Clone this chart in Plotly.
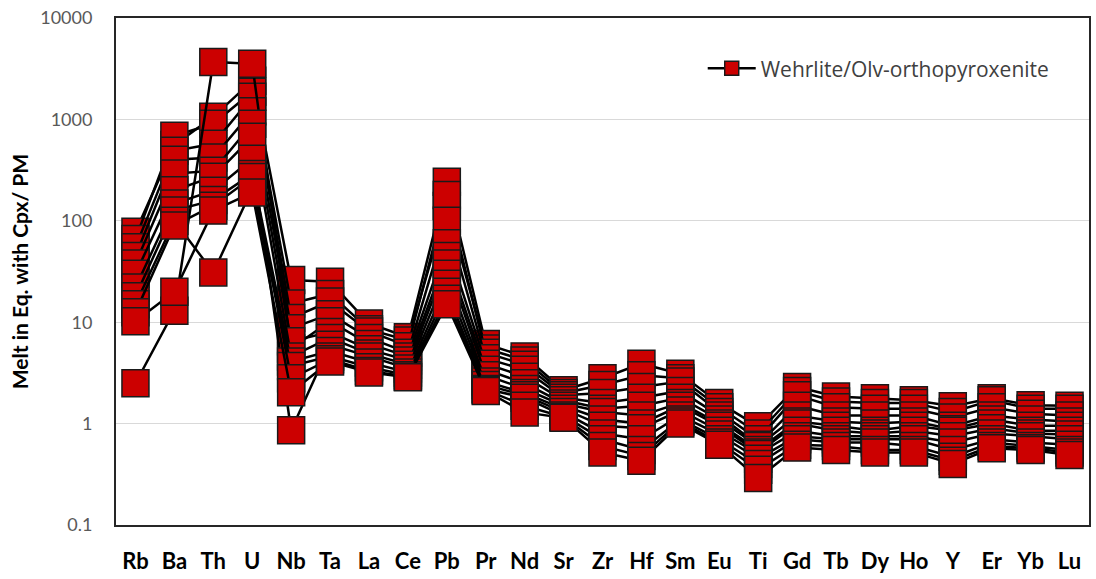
import plotly.graph_objects as go

# Trace-element order for the spider diagram
elements = ["Rb", "Ba", "Th", "U", "Nb", "Ta", "La", "Ce", "Pb", "Pr", "Nd", "Sr", "Zr",
            "Hf", "Sm", "Eu", "Ti", "Gd", "Tb", "Dy", "Ho", "Y", "Er", "Yb", "Lu"]

# Calculated melt in equilibrium with clinopyroxene, normalised to primitive mantle
s01 = [78, 560, 1060, 2400, 26, 25, 9.7, 7.1, 243, 6.1, 4.6, 2.13, 2.8, 3.9, 3.1, 1.6, 0.94, 2.3, 1.85, 1.78, 1.7, 1.48, 1.78, 1.52, 1.5]
s02 = [66, 690, 905, 1870, 15.3, 19, 8.5, 6.6, 140, 5.5, 4.2, 2.0, 2.4, 3.0, 2.8, 1.45, 0.8, 2.1, 1.65, 1.6, 1.6, 1.3, 1.7, 1.4, 1.4]
s03 = [55, 490, 575, 1670, 11, 16, 8.1, 5.8, 180, 5.0, 3.8, 1.9, 2.0, 2.3, 2.6, 1.3, 0.7, 1.9, 1.45, 1.4, 1.4, 1.15, 1.45, 1.25, 1.2]
s04 = [45, 400, 420, 1200, 8.7, 12, 7.0, 5.0, 100, 4.4, 3.4, 1.8, 1.6, 1.8, 2.1, 1.2, 0.62, 1.5, 1.2, 1.2, 1.2, 0.95, 1.2, 1.1, 1.05]
s05 = [2.5, 13, 3690, 3530, 5.5, 10.2, 6.1, 4.6, 60, 3.9, 2.9, 1.7, 1.4, 1.5, 1.8, 1.1, 0.6, 1.2, 1.05, 1.0, 1.05, 0.88, 1.1, 0.95, 0.95]
s06 = [38, 292, 312, 905, 6.5, 8, 5.4, 4.2, 45, 3.4, 2.5, 1.58, 1.3, 1.2, 1.6, 1.0, 0.55, 1.05, 0.95, 0.85, 0.95, 0.85, 1.0, 0.85, 0.85]
s07 = [30, 200, 272, 674, 4.6, 7, 4.9, 3.8, 38, 3.0, 2.2, 1.5, 1.1, 1.0, 1.5, 0.95, 0.52, 1.0, 0.85, 0.8, 0.85, 0.75, 0.9, 0.8, 0.78]
s08 = [22, 148, 198, 409, 0.86, 6, 4.6, 3.5, 30, 2.6, 2.0, 1.4, 0.95, 0.9, 1.35, 0.85, 0.5, 0.85, 0.75, 0.75, 0.75, 0.65, 0.8, 0.75, 0.7]
s09 = [18, 126, 160, 290, 4.1, 5.2, 4.0, 3.2, 24, 2.4, 1.9, 1.3, 0.8, 0.7, 1.2, 0.78, 0.45, 0.75, 0.7, 0.7, 0.7, 0.55, 0.7, 0.65, 0.62]
s10 = [15, 100, 31, 207, 3.7, 4.6, 3.6, 3.0, 20, 2.2, 1.8, 1.2, 0.7, 0.55, 1.1, 0.7, 0.4, 0.7, 0.65, 0.65, 0.6, 0.47, 0.65, 0.6, 0.55]
s11 = [12.5, 90, 141, 270, 2.8, 4.3, 3.3, 2.9, 17, 2.15, 1.5, 1.16, 0.6, 0.48, 1.05, 0.65, 0.35, 0.62, 0.6, 0.55, 0.55, 0.43, 0.6, 0.57, 0.52]
s12 = [10.2, 20, 126, 190, 2.04, 4.1, 3.2, 2.86, 15, 2.1, 1.29, 1.14, 0.52, 0.43, 1.0, 0.62, 0.29, 0.58, 0.55, 0.52, 0.52, 0.40, 0.57, 0.55, 0.49]

samples = [s01, s02, s03, s04, s05, s06, s07, s08, s09, s10, s11, s12]
group_name = "Wehrlite/Olv-orthopyroxenite"

y_ticks = [0.1, 1, 10, 100, 1000, 10000]
y_tick_text = ["0.1", "1", "10", "100", "1000", "10000"]

RED = "#CC0000"
fig = go.Figure()

for vals in samples:
    fig.add_trace(go.Scatter(
        x=elements, y=vals, mode="lines+markers",
        line=dict(color="black", width=2.5),
        marker=dict(symbol="square", size=27, color=RED,
                    line=dict(color="#1a1a1a", width=1.5)),
        showlegend=False, hoverinfo="x+y",
    ))

# Single legend entry for the whole group
fig.add_trace(go.Scatter(
    x=[None], y=[None], mode="lines+markers", name=group_name,
    line=dict(color="black", width=2.5),
    marker=dict(symbol="square", size=14, color=RED,
                line=dict(color="#1a1a1a", width=1.5)),
))

fig.update_layout(
    width=1096, height=579,
    margin=dict(l=116, r=5, t=18, b=53),
    paper_bgcolor="white", plot_bgcolor="white",
    font=dict(family="Lato, Open Sans, sans-serif"),
    legend=dict(
        x=0.603, y=0.9, xanchor="left", yanchor="middle",
        bgcolor="rgba(0,0,0,0)", itemwidth=48,
        font=dict(size=21, color="#404040", family="Open Sans"),
    ),
    xaxis=dict(
        type="category", categoryorder="array", categoryarray=elements,
        range=[-0.5, len(elements) - 0.5],
        showline=True, mirror=True, linecolor="#262626", linewidth=2,
        showgrid=False, ticks="", ticklabelstandoff=16,
        tickfont=dict(family="Lato", size=22, color="black", weight="bold"),
    ),
    yaxis=dict(
        type="log", range=[-1, 4],
        tickvals=y_ticks, ticktext=y_tick_text,
        showline=True, mirror=True, linecolor="#262626", linewidth=2,
        showgrid=True, gridcolor="#d9d9d9", gridwidth=1,
        ticks="", ticklabelstandoff=18,
        tickfont=dict(family="Lato", size=18, color="#595959"),
        title=dict(text="Melt in Eq. with Cpx/ PM", standoff=6,
                   font=dict(family="Lato", size=21, color="black", weight="bold")),
    ),
)

fig.write_html("out.html")
